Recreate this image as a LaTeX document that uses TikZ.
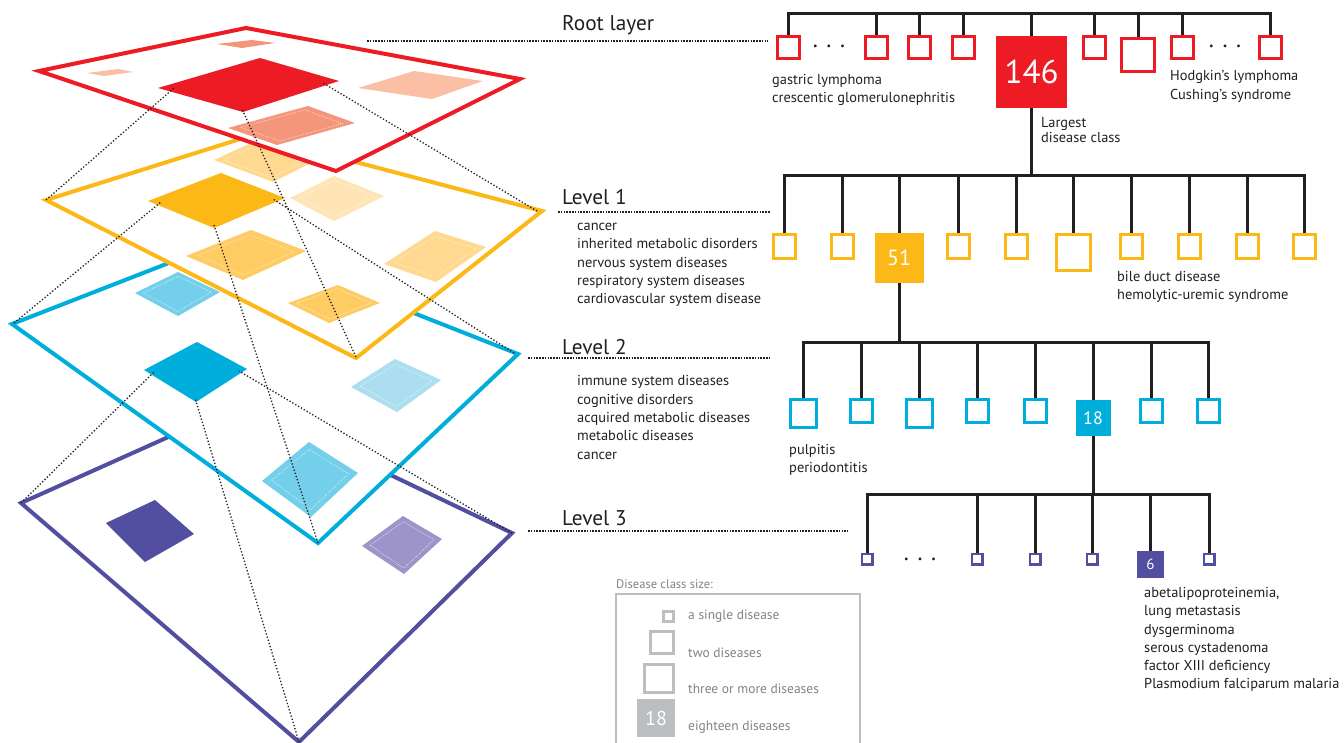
\documentclass[tikz,border=0pt]{standalone}
\usepackage{fontspec}
\setmainfont{PT Sans}
\usepackage{tikz}
\usetikzlibrary{positioning,calc}

\definecolor{ink}{HTML}{231F20}
\definecolor{redA}{HTML}{ED1C24}
\definecolor{redB}{HTML}{F4967A}
\definecolor{redC}{HTML}{FBBFA5}
\definecolor{ylwA}{HTML}{FBB817}
\definecolor{ylwB}{HTML}{FFCB63}
\definecolor{ylwC}{HTML}{FFD98F}
\definecolor{ylwD}{HTML}{FFE5B5}
\definecolor{bluA}{HTML}{00AEDB}
\definecolor{bluB}{HTML}{73CFEA}
\definecolor{bluC}{HTML}{ABDFEF}
\definecolor{purA}{HTML}{524EA0}
\definecolor{purB}{HTML}{9D95C9}
\definecolor{legA}{HTML}{BCBEC0}
\definecolor{legT}{HTML}{808285}

\tikzset{
  layer/.style={fill=white,line width=4pt,line join=miter},
  inset/.style={draw=white,line width=0.5pt,dash pattern=on 1pt off 1pt,opacity=0.8},
  link/.style={draw=ink,line width=1.3pt,dash pattern=on 1.3pt off 2pt},
  leader/.style={draw=ink,line width=1.6pt,dash pattern=on 1.6pt off 1.2pt},
  branch/.style={draw=ink,line width=3pt,line join=miter},
  cls/.style={draw,fill=white,line width=3pt,inner sep=0pt},
  big/.style={fill,text=white,inner sep=0pt},
  txt/.style={anchor=west,inner sep=0pt,align=left,text=ink,font=\fontsize{14.4}{18.3}\selectfont},
  lvl/.style={anchor=west,inner sep=0pt,text=ink,font=\fontsize{21.3}{25}\selectfont},
  dots/.style={inner sep=0pt,text=ink,font=\fontsize{10}{10}\selectfont},
  legtxt/.style={anchor=west,inner sep=0pt,text=legT,font=\fontsize{13.5}{16}\selectfont}
}

% light class tile with its inner white trim
\newcommand{\tile}[5]{%
  \fill[#1] #2 -- #3 -- #4 -- #5 -- cycle;
  \draw[inset] ($#2!0.1!#4$) -- ($#3!0.1!#5$) -- ($#4!0.1!#2$) -- ($#5!0.1!#3$) -- cycle;}

\begin{document}
\begin{tikzpicture}[x=1pt,y=-1pt]
\useasboundingbox (0,0) rectangle (1344,743);

% Level 3 layer
\filldraw[layer,draw=purA] (242,404) -- (512,533) -- (299,742) -- (21,503) -- cycle;
\fill[purA] (106,523) -- (155,500) -- (194,534) -- (145,562) -- cycle;
\tile{purB}{(362,546)}{(403,516)}{(442,539)}{(404,574)}

% Level 2 layer
\filldraw[layer,draw=bluA] (228,240) -- (518,354) -- (318,543) -- (12,324) -- cycle;
\tile{bluB}{(135,293)}{(178,272)}{(220,292)}{(178,316)}
\fill[bluA] (144,370) -- (197,342) -- (247,369) -- (196,402) -- cycle;
\tile{bluC}{(351,387)}{(395,359)}{(441,380)}{(397,412)}
\tile{bluB}{(262,481)}{(309,442)}{(358,473)}{(311,517)}

% Level 1 layer
\filldraw[layer,draw=ylwA] (253,135) -- (542,211) -- (356,358) -- (46,200) -- cycle;
\tile{ylwC}{(214,160)}{(262,138)}{(311,163)}{(273,182)}
\fill[ylwA] (148,201) -- (221,173) -- (285,198) -- (214,228) -- cycle;
\tile{ylwD}{(290,198)}{(334,176)}{(384,196)}{(334,221)}
\tile{ylwB}{(186,256)}{(251,230)}{(306,251)}{(243,280)}
\tile{ylwC}{(384,264)}{(435,231)}{(486,247)}{(436,282)}
\tile{ylwB}{(288,303)}{(338,285)}{(380,303)}{(329,323)}

% Root layer
\filldraw[layer,draw=redA] (246,28) -- (520,79) -- (336,171) -- (39,71) -- cycle;
\fill[redB] (217,44) -- (252,40) -- (275,43) -- (242,48) -- cycle;
\fill[redC] (87,73) -- (118,69) -- (133,72) -- (104,76) -- cycle;
\fill[redA] (158,88) -- (260,58) -- (339,81) -- (243,112) -- cycle;
\fill[redC] (358,88) -- (414,71) -- (483,81) -- (432,99) -- cycle;
\tile{redB}{(228,128)}{(308,106)}{(355,123)}{(277,145)}

% Links between layers
\draw[link] (46,200) -- (174,88);
\draw[link] (537,211) -- (323,83);
\draw[link] (356,357) -- (242,109);
\draw[link] (14,323) -- (161,202);
\draw[link] (514,353) -- (273,199);
\draw[link] (318,543) -- (214,225);
\draw[link] (21,503) -- (154,372);
\draw[link] (512,533) -- (239,371);
\draw[link] (299,742) -- (195,398);

% Level labels
\node[lvl] (root) at (562,25) {Root layer};
\node[lvl] (lev1) at (562,197) {Level 1};
\node[lvl] (lev2) at (562,347) {Level 2};
\node[lvl] (lev3) at (562,518) {Level 3};
\coordinate (root0) at (367,41); \coordinate (root1) at (768,41);
\coordinate (lev10) at (558,212); \coordinate (lev11) at (770,212);
\coordinate (lev20) at (528,358); \coordinate (lev21) at (770,358);
\coordinate (lev30) at (528,531); \coordinate (lev31) at (848,531);
\draw[leader] (root0) -- (root1);
\draw[leader] (lev10) -- (lev11);
\draw[leader] (lev20) -- (lev21);
\draw[leader] (lev30) -- (lev31);

% Root classes
\tikzset{cls/.append style={draw=redA}}
\node[cls,minimum size=22] (r1) at (788,47.5) {};
\node[cls,minimum size=22] (r2) at (876,47.5) {};
\node[cls,minimum size=22] (r3) at (919,47.5) {};
\node[cls,minimum size=22] (r4) at (963,47.5) {};
\node[big,fill=redA,minimum width=71,minimum height=72,font=\fontsize{33}{33}\selectfont] (r146) at (1031.5,72) {146};
\node[cls,minimum size=22] (r5) at (1094,47.5) {};
\node[cls,minimum size=33] (r6) at (1138,55) {};
\node[cls,minimum size=22] (r7) at (1182,47.5) {};
\node[cls,minimum size=22] (r8) at (1270,47.5) {};
\node[dots] (rd1) at (829,47) {\textbullet\hspace{9pt}\textbullet\hspace{9pt}\textbullet};
\node[dots] (rd2) at (1225,47) {\textbullet\hspace{9pt}\textbullet\hspace{9pt}\textbullet};
\coordinate (rbar) at (0,14);
\draw[branch] (r1.north) |- (r8.north |- rbar) -- (r8.north);
\foreach \n in {r2,r3,r4,r146,r5,r6,r7}
  \draw[branch] (\n.north) -- (\n.north |- rbar);
\node[txt] (rt1) at (772,90) {gastric lymphoma\\crescentic glomerulonephritis};
\node[txt] (rt2) at (1170,86.5) {Hodgkin’s lymphoma\\Cushing’s syndrome};
\node[txt,font=\fontsize{14.4}{15}\selectfont] (rt3) at (1041,130) {Largest\\disease class};

% Level 1 classes
\tikzset{cls/.style={draw=ylwA,fill=white,line width=3pt,inner sep=0pt,minimum width=22,minimum height=24}}
\node[cls] (a1) at (784,246.5) {};
\node[cls] (a2) at (842,246.5) {};
\node[big,fill=ylwA,minimum width=49,minimum height=50,font=\fontsize{22}{22}\selectfont] (a51) at (899,258) {51};
\node[cls] (a3) at (958,246.5) {};
\node[cls] (a4) at (1016,246.5) {};
\node[cls,minimum width=34,minimum height=36] (a5) at (1073,252.5) {};
\node[cls] (a6) at (1131,246.5) {};
\node[cls] (a7) at (1189,246.5) {};
\node[cls] (a8) at (1247,246.5) {};
\node[cls] (a9) at (1304,246.5) {};
\coordinate (abar) at (0,176);
\draw[branch] (r146.south) -- (r146.south |- abar);
\draw[branch] (a1.north) |- (a9.north |- abar) -- (a9.north);
\foreach \n in {a2,a51,a3,a4,a5,a6,a7,a8}
  \draw[branch] (\n.north) -- (\n.north |- abar);
\node[txt] (at1) at (577,265) {cancer\\inherited metabolic disorders\\nervous system diseases\\respiratory system diseases\\cardiovascular system disease};
\node[txt] (at2) at (1117,287) {bile duct disease\\hemolytic-uremic syndrome};

% Level 2 classes
\tikzset{cls/.style={draw=bluA,fill=white,line width=3pt,inner sep=0pt,minimum width=22,minimum height=23}}
\node[cls,minimum width=26,minimum height=28] (b1) at (803,413.5) {};
\node[cls] (b2) at (861,411) {};
\node[cls,minimum width=26,minimum height=28] (b3) at (919,413.5) {};
\node[cls] (b4) at (977,411) {};
\node[cls] (b5) at (1035,411) {};
\node[big,fill=bluA,minimum width=35,minimum height=36,font=\fontsize{18}{18}\selectfont] (b18) at (1093,418) {18};
\node[cls] (b6) at (1151,411) {};
\node[cls] (b7) at (1208,411) {};
\coordinate (bbar) at (0,342);
\draw[branch] (a51.south) -- (a51.south |- bbar);
\draw[branch] (b1.north) |- (b7.north |- bbar) -- (b7.north);
\foreach \n in {b2,b3,b4,b5,b18,b6}
  \draw[branch] (\n.north) -- (\n.north |- bbar);
\node[txt] (bt1) at (577,417.4) {immune system diseases\\cognitive disorders\\acquired metabolic diseases\\metabolic diseases\\cancer};
\node[txt] (bt2) at (789,459.5) {pulpitis\\periodontitis};

% Level 3 classes
\tikzset{cls/.style={draw=purA,fill=white,line width=2.5pt,inner sep=0pt,minimum size=10.5}}
\node[cls] (c1) at (867,559) {};
\node[cls] (c2) at (977,559) {};
\node[cls] (c3) at (1035,559) {};
\node[cls] (c4) at (1092,559) {};
\node[big,fill=purA,minimum size=27,font=\fontsize{15}{15}\selectfont] (c6) at (1150.5,564.5) {6};
\node[cls] (c5) at (1209,559) {};
\node[dots] (cd1) at (920,560) {\textbullet\hspace{9pt}\textbullet\hspace{9pt}\textbullet};
\coordinate (cbar) at (0,494);
\draw[branch] (b18.south) -- (b18.south |- cbar);
\draw[branch] (c1.north) |- (c5.north |- cbar) -- (c5.north);
\foreach \n in {c2,c3,c4,c6}
  \draw[branch] (\n.north) -- (\n.north |- cbar);
\node[txt] (ct1) at (1144,639.5) {abetalipoproteinemia,\\lung metastasis\\dysgerminoma\\serous cystadenoma\\factor XIII deficiency\\Plasmodium falciparum malaria};

% Legend
\node[legtxt,font=\fontsize{12.5}{14}\selectfont] (leg) at (616,584) {Disease class size:};
\draw[legA,line width=2pt] (616,594) rectangle (860,760);
\tikzset{cls/.style={draw=legA,fill=white,line width=3pt,inner sep=0pt}}
\node[cls,minimum size=10] (g1) at (668,616) {};
\node[cls,minimum width=23,minimum height=22] (g2) at (662,642.5) {};
\node[cls,minimum width=29,minimum height=28] (g3) at (659,678.5) {};
\node[big,fill=legA,minimum size=38,font=\fontsize{20}{20}\selectfont] (g4) at (656,718) {18};
\node[legtxt] (gt1) at (688,616) {a single disease};
\node[legtxt] (gt2) at (688,653) {two diseases};
\node[legtxt] (gt3) at (688,689) {three or more diseases};
\node[legtxt] (gt4) at (688,727) {eighteen diseases};

\end{tikzpicture}
\end{document}
